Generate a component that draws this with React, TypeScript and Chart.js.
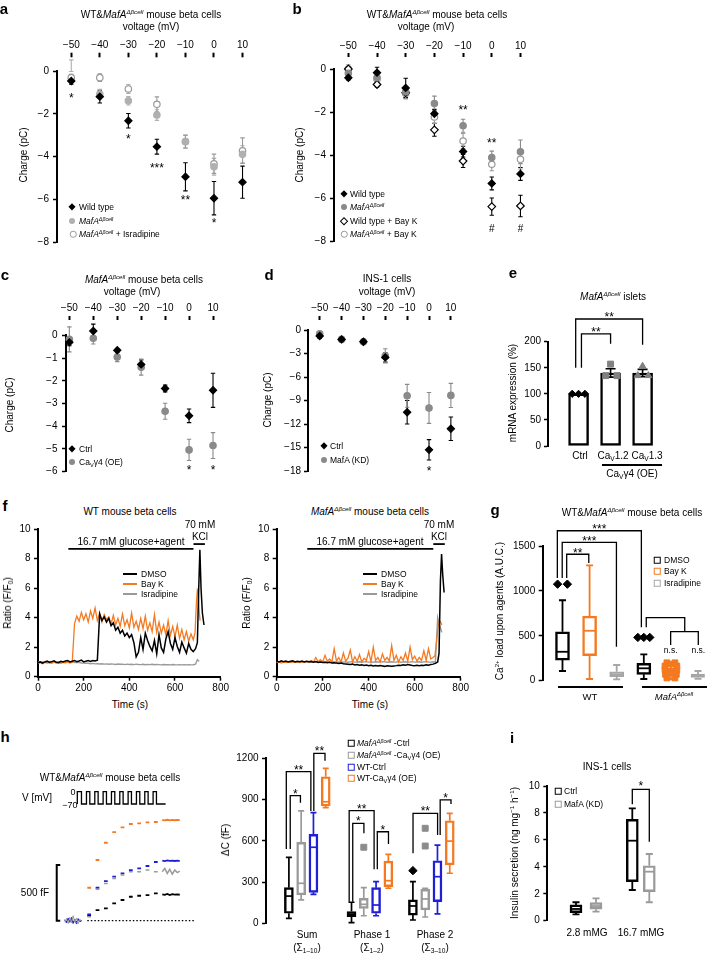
import React, { useEffect, useRef } from 'react';
import { Chart, registerables } from 'chart.js';

Chart.register(...registerables);

const FONT = '"Liberation Sans", Arial, Helvetica, sans-serif';
Chart.defaults.font.family = FONT;
Chart.defaults.color = '#000';

const C_BLACK = '#000000';
const C_LGRAY = '#b0b0b0';
const C_GRAY = '#8a8a8a';
const C_ORANGE = '#f47920';
const C_BLUE = '#1f1fd6';

/* ================= a–d : charge vs voltage ================= */
const VOLTAGES = [-50, -40, -30, -20, -10, 0, 10];

const A_WT = [-0.47, -1.2, -2.33, -3.54, -4.95, -5.95, -5.2];
const A_WT_ERR = [0.15, 0.3, 0.34, 0.35, 0.66, 0.78, 0.75];
const A_MAFA = [0.25, -1.08, -1.39, -2.06, -3.31, -4.48, -3.9];
const A_MAFA_ERR = [0.27, 0.22, 0.2, 0.25, 0.3, 0.39, 0.4];
const A_MAFA_ISR = [-0.31, -0.31, -0.84, -1.56, -3.3, -4.34, -3.73];
const A_MAFA_ISR_ERR = [0.15, 0.18, 0.2, 0.35, 0.3, 0.45, 0.6];
const A_SIG_X = [-50, -30, -20, -10, 0];
const A_SIG_Y = [-1.15, -3.07, -4.43, -5.92, -7.0];
const A_SIG = ['*', '*', '***', '**', '*'];

const B_WT = [-0.41, -0.17, -0.88, -2.08, -3.84, -5.32, -4.88];
const B_WT_ERR = [0.1, 0.25, 0.45, 0.2, 0.25, 0.3, 0.3];
const B_MAFA = [-0.2, -0.4, -1.06, -1.61, -2.64, -4.12, -3.85];
const B_MAFA_ERR = [0.25, 0.3, 0.2, 0.35, 0.3, 0.3, 0.55];
const B_WT_BAYK = [0, -0.72, -1.1, -2.83, -4.28, -6.4, -6.37];
const B_WT_BAYK_ERR = [0.1, 0.12, 0.25, 0.3, 0.3, 0.4, 0.5];
const B_MAFA_BAYK = [0, -0.48, -1.14, -2.23, -3.35, -4.43, -4.2];
const B_MAFA_BAYK_ERR = [0.2, 0.2, 0.25, 0.3, 0.35, 0.3, 0.45];
const B_SIG_X = [-10, 0, 0, 10];
const B_SIG_Y = [-1.8, -3.3, -7.46, -7.46];
const B_SIG = ['**', '**', '#', '#'];

const C_CTRL = [-0.31, 0.19, -0.66, -1.28, -2.34, -3.54, -2.42];
const C_CTRL_ERR = [0.15, 0.3, 0.08, 0.2, 0.15, 0.3, 0.75];
const C_CAV = [-0.18, -0.13, -0.96, -1.4, -3.34, -5.04, -4.85];
const C_CAV_ERR = [0.55, 0.25, 0.2, 0.35, 0.35, 0.47, 0.57];
const C_SIG_X = [0, 10];
const C_SIG_Y = [-5.8, -5.8];
const C_SIG = ['*', '*'];

const D_CTRL = [-0.77, -1.2, -1.5, -3.5, -10.5, -15.3, -12.6];
const D_CTRL_ERR = [0.3, 0.3, 0.3, 0.6, 1.5, 1.3, 1.5];
const D_KD = [-0.5, -1.2, -1.5, -3.3, -8.4, -9.95, -8.35];
const D_KD_ERR = [0.3, 0.3, 0.3, 0.9, 1.46, 1.97, 1.54];
const D_SIG_X = [0];
const D_SIG_Y = [-17.7];
const D_SIG = ['*'];

/* ================= e : mRNA bars ================= */
const E_CATEGORIES = ['Ctrl', 'Ca_V1.2', 'Ca_V1.3'];
const E_MEAN = [100, 140, 140];
const E_ERR = [0, 8, 7];
const E_CTRL_PTS = [100, 100, 100];
const E_CAV12_PTS = [157, 135, 135];
const E_CAV13_PTS = [153, 135, 135];
const E_BRACKETS = [[-0.09, 150, 2, 194, 243.5], [0.09, 150, 1, 196, 215]];
const E_BRACKET_SIG = ['**', '**'];

/* ================= f : Ca traces ================= */
const F_T = [0, 10, 20, 30, 40, 50, 60, 70, 80, 90, 100, 110, 120, 130, 140, 150, 160, 170, 180, 190, 200, 210, 220, 230, 240, 250, 260, 270, 280, 290, 300, 310, 320, 330, 340, 350, 360, 370, 380, 390, 400, 410, 420, 430, 440, 450, 460, 470, 480, 490, 500, 510, 520, 530, 540, 550, 560, 570, 580, 590, 600, 610, 620, 630, 640, 650, 660, 670, 680];
const F_WT_DMSO = [0.95, 1.0, 0.92, 1.0, 1.05, 0.96, 1.02, 1.08, 0.98, 0.95, 1.04, 1.0, 1.06, 1.1, 1.0, 1.05, 1.1, 1.02, 1.06, 1.12, 1.0, 1.05, 1.1, 1.04, 1.1, 1.06, 1.12, 4.25, 3.8, 4.05, 3.7, 3.95, 3.45, 3.65, 3.15, 3.35, 2.95, 3.15, 2.75, 2.95, 2.65, 2.85, 2.3, 1.35, 1.65, 2.65, 1.85, 2.95, 2.45, 2.05, 1.75, 2.45, 1.55, 2.85, 1.95, 1.65, 2.55, 3.05, 2.25, 1.85, 2.65, 2.05, 1.65, 2.35, 1.95, 1.6, 2.25, 1.85, 1.7];
const F_WT_DMSO_KCL_T = [690, 698, 703, 709, 714, 720, 727];
const F_WT_DMSO_KCL = [1.9, 2.3, 5.5, 8.6, 6.0, 4.3, 3.5];
const F_WT_BAYK = [0.9, 0.95, 0.88, 0.97, 0.92, 0.95, 0.9, 0.98, 0.93, 0.96, 0.9, 0.97, 0.94, 0.99, 0.93, 0.98, 3.6, 4.1, 3.75, 4.35, 3.85, 4.25, 3.7, 4.45, 3.95, 4.65, 3.8, 4.3, 3.7, 4.2, 3.85, 4.05, 3.55, 4.15, 3.5, 3.95, 3.4, 4.25, 3.45, 3.85, 3.3, 4.3, 3.35, 3.75, 3.2, 3.95, 3.25, 4.1, 3.15, 3.65, 3.05, 4.2, 3.0, 3.7, 2.95, 3.5, 2.85, 3.8, 2.8, 3.4, 2.7, 3.5, 2.6, 3.2, 2.5, 3.05, 2.4, 2.9, 2.5];
const F_WT_BAYK_KCL_T = [688, 693, 698, 702, 706, 710];
const F_WT_BAYK_KCL = [3.0, 4.8, 5.9, 5.8, 4.4, 3.8];
const F_WT_ISR = [1.0, 0.98, 1.02, 0.97, 1.0, 1.03, 0.98, 1.0, 0.97, 1.01, 0.99, 1.0, 0.97, 1.0, 0.98, 1.0, 0.96, 0.95, 0.97, 0.93, 0.92, 0.9, 0.91, 0.88, 0.9, 0.87, 0.88, 0.86, 0.88, 0.85, 0.87, 0.84, 0.86, 0.85, 0.83, 0.86, 0.84, 0.85, 0.82, 0.85, 0.83, 0.84, 0.82, 0.85, 0.83, 0.82, 0.84, 0.81, 0.83, 0.82, 0.84, 0.81, 0.83, 0.82, 0.8, 0.83, 0.81, 0.82, 0.8, 0.83, 0.81, 0.8, 0.82, 0.8, 0.81, 0.8, 0.82, 0.8, 0.81];
const F_WT_ISR_KCL_T = [690, 698, 706];
const F_WT_ISR_KCL = [0.85, 1.15, 1.05];
const F_KO_DMSO = [1.05, 1.0, 1.08, 1.02, 1.06, 1.0, 1.04, 1.07, 1.0, 1.05, 1.02, 1.06, 1.0, 1.04, 1.01, 1.03, 0.98, 1.02, 0.97, 1.0, 0.96, 0.98, 0.94, 0.97, 0.93, 0.95, 0.92, 0.9, 0.93, 0.88, 0.86, 0.84, 0.82, 0.85, 0.8, 0.82, 0.78, 0.8, 0.76, 0.79, 0.74, 0.77, 0.73, 0.76, 0.72, 0.75, 0.73, 0.7, 0.74, 0.72, 0.7, 0.73, 0.75, 0.78, 0.76, 0.8, 0.78, 0.82, 0.79, 0.76, 0.74, 0.77, 0.75, 0.78, 0.76, 0.8, 0.78, 0.82, 0.85];
const F_KO_DMSO_KCL_T = [690, 700, 706, 712, 717, 722, 728];
const F_KO_DMSO_KCL = [0.9, 1.0, 1.6, 6.5, 8.3, 6.9, 5.7];
const F_KO_BAYK = [0.95, 1.0, 0.93, 1.0, 0.96, 1.02, 0.95, 1.0, 0.97, 1.03, 0.96, 1.01, 0.98, 1.05, 0.98, 1.1, 1.0, 1.3, 1.02, 1.15, 1.0, 1.45, 1.05, 1.2, 1.0, 1.9, 1.05, 1.3, 1.0, 1.6, 1.05, 1.25, 1.8, 1.0, 1.35, 1.05, 1.5, 1.0, 1.25, 1.1, 1.7, 1.0, 2.0, 1.1, 1.3, 1.0, 1.55, 1.1, 1.3, 1.05, 2.1, 1.1, 1.45, 1.0, 1.35, 1.1, 1.6, 1.05, 2.0, 1.15, 1.4, 1.05, 1.3, 1.1, 1.75, 1.1, 1.9, 1.2, 1.3];
const F_KO_BAYK_KCL_T = [688, 694, 702, 708, 713, 718];
const F_KO_BAYK_KCL = [1.4, 2.2, 3.4, 3.8, 3.7, 3.5];
const F_KO_ISR = [1.0, 1.02, 0.98, 1.01, 1.03, 0.99, 1.0, 1.02, 0.98, 1.0, 1.01, 0.99, 1.02, 1.0, 0.98, 1.01, 1.0, 0.99, 1.02, 1.0, 0.98, 1.0, 1.01, 0.99, 1.0, 1.02, 0.98, 1.0, 1.01, 0.99, 1.0, 0.98, 1.0, 1.02, 0.99, 1.0, 1.01, 0.98, 1.0, 1.02, 0.99, 1.0, 0.98, 1.01, 1.0, 0.99, 1.02, 1.0, 0.98, 1.0, 1.01, 0.99, 1.0, 1.02, 0.98, 1.0, 1.01, 0.99, 1.0, 1.02, 0.99, 1.0, 1.01, 0.98, 1.0, 1.02, 1.0, 0.99, 1.01];
const F_KO_ISR_KCL_T = [690, 695, 700, 706, 712, 718];
const F_KO_ISR_KCL = [1.0, 2.5, 4.0, 3.6, 3.3, 3.0];
const F_GLUCOSE_PERIOD = [133, 681];
const F_GLUCOSE_LEVEL = 8.65;
const F_KCL_PERIOD = [681, 731];
const F_KCL_LEVEL = 8.98;

/* ================= g : Ca load boxes ================= */
const G_GROUPS = ['WT', 'MafA'];
const G_DMSO = [[108, 230, 322, 545, 896], [19, 71, 138, 193, 293]];
const G_BAYK = [[19, 278, 556, 720, 1285], [15, 50, 90, 140, 180]];
const G_ISR = [[15, 45, 67, 100, 175], [20, 37, 55, 74, 108]];
const G_DMSO_OUT = [[1075, 1075], [482, 482, 482]];
const G_BAYK_OUT = [[], [200, 200, 185, 165, 165, 120, 120, 70, 70, 30, 30]];
const G_BRACKETS = [[0.155, 1144, 0.97, 1311, 1408], [-0.01, 1144, 1.99, 379, 1541], [-0.19, 1144, 2.91, 595, 1670]];
const G_BRACKET_SIG = ['**', '***', '***'];
const G_NS_LINES = [[[3.09, 595], [3.09, 702], [4.51, 702], [4.51, 546]], [[3.99, 398], [3.99, 546], [5.01, 546], [5.01, 398]]];
const G_NS_X = [3.99, 5.01];
const G_NS_Y = 331;

/* ================= h : capacitance ================= */
const H_PULSE_T = [-1.2, -0.7, -0.1, 0.3, 0.9, 1.3, 1.9, 2.3, 2.9, 3.3, 3.9, 4.3, 4.9, 5.3, 5.9, 6.3, 6.9, 7.3, 7.9, 8.3, 8.9, 9.4];
const H_PULSE_MV = [-70, 0, -70, 0, -70, 0, -70, 0, -70, 0, -70, 0, -70, 0, -70, 0, -70, 0, -70, 0, -70, -70];
const H_SEG_T = [0, 1, 2, 3, 4, 5, 6, 7, 8];
const H_TAIL_T = [9.0, 9.3, 9.6, 9.9, 10.2, 10.5, 10.8, 11.1];
const H_STEP_WT_CAV = [296, 545, 700, 796, 838, 868, 874, 883, 886];
const H_TAIL_WT_CAV = [904, 900, 906, 901, 905, 902, 904, 903];
const H_STEP_WT_CTRL = [57, 296, 356, 395, 425, 455, 470, 491, 527];
const H_TAIL_WT_CTRL = [539, 535, 541, 537, 540, 536, 539, 538];
const H_STEP_MAFA_CAV = [36, 282, 335, 380, 410, 440, 440, 455, 440];
const H_TAIL_MAFA_CAV = [440, 470, 425, 462, 418, 455, 432, 445];
const H_STEP_MAFA_CTRL = [45, 96, 111, 156, 186, 215, 224, 230, 246];
const H_TAIL_MAFA_CTRL = [237, 232, 240, 230, 238, 234, 236, 233];
const H_PRE_T = [-2.7, -2.5, -2.3, -2.1, -1.9, -1.7, -1.5, -1.3, -1.1, -0.9, -0.7];
const H_PRE_BLUE = [10, -20, 25, -15, 30, -25, 15, -30, 20, -10, 5];
const H_PRE_GRAY = [-15, 20, -25, 30, -20, 45, -15, 25, -30, 15, -5];
const H_PRE_BLACK = [5, -10, 15, -5, 10, -15, 5, -10, 10, -5, 0];
const H_BASELINE_T = [0, 12.8];
const H_BASELINE_V = [0, 0];
const H_SCALEBAR_T = [-3.25, -3.67, -3.67, -3.25];
const H_SCALEBAR_V = [500, 500, 0, 0];

const H_GROUPS = ['Sum', 'Phase 1', 'Phase 2'];
const H_MAFA_CTRL = [[36, 73, 198, 259, 480], [5, 48, 65, 85, 153], [24, 60, 126, 170, 303]];
const H_MAFA_CAV = [[170, 206, 291, 589, 817], [55, 109, 138, 182, 259], [46, 97, 177, 247, 255]];
const H_WT_CTRL = [[211, 225, 553, 647, 805], [55, 73, 133, 259, 303], [68, 157, 339, 455, 569]];
const H_WT_CAV = [[841, 853, 884, 1066, 1127], [255, 266, 310, 453, 502], [364, 424, 598, 746, 800]];
const H_OUT_MAFA_CTRL = [[], [], [383]];
const H_OUT_MAFA_CAV = [[], [553], [691, 562]];
const H_BRACKETS = [
  [0.11, 540, 0.94, 877, 928], [-0.21, 540, 1.79, 817, 1103], [2.03, 817, 2.94, 1183, 1236],
  [5.2, 157, 6.11, 655, 727], [4.91, 157, 6.94, 393, 819], [7.2, 393, 8.11, 577, 666],
  [10.11, 509, 12.11, 642, 800], [12.32, 642, 13.2, 868, 897],
];
const H_BRACKET_SIG = ['*', '**', '**', '*', '**', '*', '**', '*'];

/* ================= i : insulin ================= */
const I_GROUPS = ['2.8 mMG', '16.7 mMG'];
const I_CTRL = [[0.47, 0.6, 0.87, 1.17, 1.37], [2.28, 2.9, 5.94, 7.53, 8.34]];
const I_KD = [[0.67, 0.85, 1.09, 1.34, 1.66], [1.37, 2.15, 3.64, 4.08, 4.95]];
const I_BRACKETS = [[2.815, 8.64, 3.665, 5.86, 9.75]];
const I_BRACKET_SIG = ['*'];

/* ---------- layout (positions on the category axes) ---------- */
const E_X = [0, 1, 2];
const E_JIT = [[-0.2, 0, 0.2], [0, -0.15, 0.2], [0, -0.15, 0.18]];
const G_X0 = [0, 3];
const G_JIT2 = [-0.18, 0.18];
const G_JIT3 = [-0.22, 0, 0.22];
const G_JIT11 = [-0.15, 0.15, 0, -0.22, 0.22, -0.22, 0.22, -0.2, 0.2, -0.15, 0.15];
const H_GX = [0, 5.1, 10.1];
const H_SEG_LEN = 0.45;
const I_X_CTRL = [0, 2.815];
const I_X_KD = [1, 3.665];

/* ================= helpers ================= */
const fmt = (v: number) => (v < 0 ? '\u2212' + Math.abs(v) : String(v));

const errorBarPlugin = {
  id: 'errorBarPlugin',
  beforeDatasetsDraw(chart: any) {
    const ctx = chart.ctx;
    const X = chart.scales.x;
    const Y = chart.scales.y;
    chart.data.datasets.forEach((ds: any) => {
      if (!ds.errorBars) return;
      ctx.save();
      ctx.strokeStyle = ds.errColor || '#000';
      ctx.lineWidth = ds.errWidth || 1.1;
      const cw = ds.capW ?? 2.2;
      ds.data.forEach((p: any, i: number) => {
        const e = ds.errorBars[i];
        if (!e) return;
        const px = X.getPixelForValue(p.x);
        const y1 = Y.getPixelForValue(p.y + e);
        const y2 = Y.getPixelForValue(p.y - e);
        ctx.beginPath();
        ctx.moveTo(px, y1); ctx.lineTo(px, y2);
        ctx.moveTo(px - cw, y1); ctx.lineTo(px + cw, y1);
        ctx.moveTo(px - cw, y2); ctx.lineTo(px + cw, y2);
        ctx.stroke();
      });
      ctx.restore();
    });
  },
};
Chart.register(errorBarPlugin);

function notesPlugin(id: string, n: any) {
  return {
    id,
    afterDatasetsDraw(chart: any) {
      const ctx = chart.ctx;
      const X = chart.scales.x;
      const Y = chart.scales.y;
      ctx.save();
      (n.lines || []).forEach((l: any) => {
        ctx.beginPath();
        ctx.strokeStyle = l.color || '#000';
        ctx.lineWidth = l.width || 1.3;
        l.pts.forEach((p: number[], i: number) => {
          const px = X.getPixelForValue(p[0]);
          const py = Y.getPixelForValue(p[1]);
          if (i) ctx.lineTo(px, py); else ctx.moveTo(px, py);
        });
        ctx.stroke();
      });
      (n.texts || []).forEach((t: any) => {
        const size = t.size || 12;
        ctx.font = `${size}px ${FONT}`;
        ctx.fillStyle = t.color || '#000';
        ctx.textAlign = 'center';
        const px = X.getPixelForValue(t.x);
        const py = Y.getPixelForValue(t.y);
        if (t.t.indexOf('*') >= 0) {
          ctx.textBaseline = 'alphabetic';
          ctx.fillText(t.t, px, py + size * 0.55);
        } else {
          ctx.textBaseline = 'middle';
          ctx.fillText(t.t, px, py);
        }
      });
      ctx.restore();
    },
  };
}

function sigTexts(xs: number[], ys: number[], ts: string[], size = 12) {
  return xs.map((x, i) => ({ x, y: ys[i], t: ts[i], size: ts[i] === '#' ? 10 : size }));
}

function bracketNotes(brs: number[][], sig: string[], dy: number, width = 1.3) {
  return {
    lines: brs.map(b => ({ pts: [[b[0], b[1]], [b[0], b[4]], [b[2], b[4]], [b[2], b[3]]], width })),
    texts: brs.map((b, i) => ({ x: (b[0] + b[2]) / 2, y: b[4] + dy, t: sig[i], size: 12 })),
  };
}

function boxWhiskers(id: string, sets: any[], boxW: number, capW: number, lw: number) {
  return {
    id,
    afterDatasetsDraw(chart: any) {
      const ctx = chart.ctx;
      const X = chart.scales.x;
      const Y = chart.scales.y;
      ctx.save();
      ctx.lineWidth = lw;
      sets.forEach((set: any) => set.stats.forEach((s: number[], i: number) => {
        const px = X.getPixelForValue(set.xs[i]);
        const [mn, q1, md, q3, mx] = s.map(v => Y.getPixelForValue(v));
        ctx.strokeStyle = set.color;
        ctx.beginPath();
        ctx.moveTo(px, q3); ctx.lineTo(px, mx);
        ctx.moveTo(px, q1); ctx.lineTo(px, mn);
        ctx.moveTo(px - capW / 2, mx); ctx.lineTo(px + capW / 2, mx);
        ctx.moveTo(px - capW / 2, mn); ctx.lineTo(px + capW / 2, mn);
        ctx.stroke();
        ctx.beginPath();
        ctx.moveTo(px - boxW / 2 + 1, md); ctx.lineTo(px + boxW / 2 - 1, md);
        ctx.stroke();
      }));
      ctx.restore();
    },
  };
}

function baseOpts(pad: any, scales: any) {
  return {
    responsive: false,
    maintainAspectRatio: false,
    animation: false,
    events: [],
    layout: { padding: pad },
    plugins: { legend: { display: false }, tooltip: { enabled: false }, title: { display: false } },
    scales,
  };
}

const TICK_FONT = { family: FONT, size: 10 };

function yAxis(min: number, max: number, step: number, width: number, pad = 3.5) {
  return {
    type: 'linear', position: 'left', min, max,
    ticks: { stepSize: step, color: '#000', font: TICK_FONT, padding: pad, callback: (v: any) => fmt(Number(v)) },
    grid: { display: true, drawOnChartArea: false, drawTicks: true, tickLength: 4, tickWidth: 1.5, tickColor: '#000' },
    border: { display: true, color: '#000', width: 2 },
    afterFit: (s: any) => { s.width = width; },
  };
}

function xTop(min: number, max: number, height: number, tl: number, dash: number, pad: number) {
  return {
    type: 'linear', position: 'top', min, max,
    afterBuildTicks: (s: any) => { s.ticks = VOLTAGES.map(v => ({ value: v })); },
    ticks: { color: '#000', font: TICK_FONT, padding: pad, maxRotation: 0, autoSkip: false, callback: (v: any) => fmt(Number(v)) },
    grid: { display: true, drawOnChartArea: false, drawTicks: true, tickLength: tl, tickWidth: 2, tickColor: '#000', tickBorderDash: [dash, 300] },
    border: { display: false },
    afterFit: (s: any) => { s.height = height; },
  };
}

function hiddenX(min: number, max: number) {
  return { type: 'linear', display: false, min, max, offset: false };
}

function markerSet(vals: number[], errs: number[], style: string, fill: string, stroke: string, r: number) {
  return {
    data: VOLTAGES.map((x, i) => ({ x, y: vals[i] })),
    errorBars: errs, errColor: stroke,
    pointStyle: style, pointRadius: r, pointBackgroundColor: fill, pointBorderColor: stroke, pointBorderWidth: 1.2,
    backgroundColor: fill, borderColor: stroke, showLine: false, clip: false,
  };
}

function boxDataset(xs: number[], stats: number[][], color: string, w: number, fills?: string[]) {
  return {
    type: 'bar',
    data: xs.map((x, i) => ({ x, y: [stats[i][1], stats[i][3]] })),
    backgroundColor: fills || 'rgba(255,255,255,0)',
    borderColor: color, borderWidth: 1.8, borderSkipped: false, barThickness: w, grouped: false, order: 5,
  };
}

function pointsDataset(pts: any[], style: string, color: string, r: number) {
  return {
    type: 'line', data: pts, showLine: false, pointStyle: style, pointRadius: r,
    pointBackgroundColor: color, pointBorderColor: color, pointBorderWidth: 1, order: 1, clip: false,
  };
}

function lineDs(ts: number[], vs: number[], color: string, order: number, w = 1.2) {
  return {
    data: ts.map((t, i) => ({ x: t, y: vs[i] })), borderColor: color, borderWidth: w,
    pointRadius: 0, tension: 0, order, clip: false,
  };
}

/* ================= chart configs ================= */
const cfgA = () => ({
  type: 'scatter',
  data: { datasets: [
    markerSet(A_WT, A_WT_ERR, 'rectRot', C_BLACK, C_BLACK, 3.6),
    markerSet(A_MAFA, A_MAFA_ERR, 'circle', C_LGRAY, C_LGRAY, 3.2),
    markerSet(A_MAFA_ISR, A_MAFA_ISR_ERR, 'circle', '#ffffff', '#999999', 3.2),
  ] },
  options: baseOpts({ top: 0, left: 0, right: 1.5, bottom: 11 }, { x: xTop(-55, 15, 71, 18.3, 4.6, 1.7), y: yAxis(-8, 0, 2, 57, 4) }),
  plugins: [notesPlugin('sigA', { texts: sigTexts(A_SIG_X, A_SIG_Y, A_SIG) })],
});

const cfgB = () => ({
  type: 'scatter',
  data: { datasets: [
    markerSet(B_WT, B_WT_ERR, 'rectRot', C_BLACK, C_BLACK, 3.6),
    markerSet(B_MAFA, B_MAFA_ERR, 'circle', C_GRAY, C_GRAY, 3.2),
    markerSet(B_WT_BAYK, B_WT_BAYK_ERR, 'rectRot', '#ffffff', C_BLACK, 3.8),
    markerSet(B_MAFA_BAYK, B_MAFA_BAYK_ERR, 'circle', '#ffffff', '#999999', 3.2),
  ] },
  options: baseOpts({ top: 0, left: 0, right: 1.4, bottom: 11 }, { x: xTop(-55, 15, 69, 16, 4, 1), y: yAxis(-8, 0, 2, 54, 4) }),
  plugins: [notesPlugin('sigB', { texts: sigTexts(B_SIG_X, B_SIG_Y, B_SIG) })],
});

const cfgC = () => ({
  type: 'scatter',
  data: { datasets: [
    markerSet(C_CTRL, C_CTRL_ERR, 'rectRot', C_BLACK, C_BLACK, 3.6),
    markerSet(C_CAV, C_CAV_ERR, 'circle', C_GRAY, C_GRAY, 3.2),
  ] },
  options: baseOpts({ top: 0, left: 0, right: 3, bottom: 11.3 }, { x: xTop(-51.4, 12, 65.3, 19.3, 4, 2), y: yAxis(-6, 0, 1, 66, 4.5) }),
  plugins: [notesPlugin('sigC', { texts: sigTexts(C_SIG_X, C_SIG_Y, C_SIG) })],
});

const cfgD = () => ({
  type: 'scatter',
  data: { datasets: [
    markerSet(D_CTRL, D_CTRL_ERR, 'rectRot', C_BLACK, C_BLACK, 3.6),
    markerSet(D_KD, D_KD_ERR, 'circle', C_GRAY, C_GRAY, 3.2),
  ] },
  options: baseOpts({ top: 0, left: 0, right: 1.5, bottom: 11 }, { x: xTop(-55.36, 15, 60, 14, 4, 2), y: yAxis(-18, 0, 3, 58, 3) }),
  plugins: [notesPlugin('sigD', { texts: sigTexts(D_SIG_X, D_SIG_Y, D_SIG) })],
});

const cfgE = () => ({
  type: 'bar',
  data: { datasets: [
    {
      type: 'bar', data: E_X.map((x, i) => ({ x, y: E_MEAN[i] })),
      backgroundColor: 'rgba(255,255,255,0)', borderColor: '#000', borderWidth: 1.8, borderSkipped: false,
      barThickness: 20, grouped: false, order: 5,
      errorBars: E_ERR, errColor: '#000', capW: 5, errWidth: 1.6,
    },
    pointsDataset(E_CTRL_PTS.map((v, i) => ({ x: E_X[0] + E_JIT[0][i], y: v })), 'rectRot', C_BLACK, 3.6),
    pointsDataset(E_CAV12_PTS.map((v, i) => ({ x: E_X[1] + E_JIT[1][i], y: v })), 'rect', '#808080', 4.2),
    pointsDataset(E_CAV13_PTS.map((v, i) => ({ x: E_X[2] + E_JIT[2][i], y: v })), 'triangle', '#808080', 4),
  ] },
  options: baseOpts({ top: 41.7, left: 0, right: 0, bottom: 11 }, { x: hiddenX(-0.955, 2.6), y: yAxis(0, 200, 50, 58, 3) }),
  plugins: [notesPlugin('brE', bracketNotes(E_BRACKETS, E_BRACKET_SIG, 9))],
});

function fConfig(sets: any[], glu: number[], kcl: number[], yw: number) {
  return {
    type: 'line',
    data: { datasets: sets },
    options: baseOpts({ top: 10, left: 0, right: 9.3, bottom: 0 }, {
      x: {
        type: 'linear', position: 'bottom', min: 0, max: 800,
        ticks: { stepSize: 200, color: '#000', font: TICK_FONT, padding: 2, maxRotation: 0 },
        grid: { display: true, drawOnChartArea: false, drawTicks: true, tickLength: 4, tickWidth: 1.5, tickColor: '#000' },
        border: { display: true, color: '#000', width: 2 },
        afterFit: (s: any) => { s.height = 20.3; },
      },
      y: yAxis(0, 10, 2, yw, 3.5),
    }),
    plugins: [notesPlugin('barsF', {
      lines: [
        { pts: [[glu[0], F_GLUCOSE_LEVEL], [glu[1], F_GLUCOSE_LEVEL]], width: 1.8 },
        { pts: [[kcl[0], F_KCL_LEVEL], [kcl[1], F_KCL_LEVEL]], width: 1.8 },
      ],
    })],
  };
}

const cfgF1 = () => fConfig([
  lineDs([...F_T, ...F_WT_DMSO_KCL_T], [...F_WT_DMSO, ...F_WT_DMSO_KCL], C_BLACK, 1, 1.5),
  lineDs([...F_T, ...F_WT_BAYK_KCL_T], [...F_WT_BAYK, ...F_WT_BAYK_KCL], C_ORANGE, 2, 1.3),
  lineDs([...F_T, ...F_WT_ISR_KCL_T], [...F_WT_ISR, ...F_WT_ISR_KCL], '#9a9a9a', 3, 1.4),
], F_GLUCOSE_PERIOD, F_KCL_PERIOD, 38);

const cfgF2 = () => fConfig([
  lineDs([...F_T, ...F_KO_DMSO_KCL_T], [...F_KO_DMSO, ...F_KO_DMSO_KCL], C_BLACK, 1, 1.5),
  lineDs([...F_T, ...F_KO_BAYK_KCL_T], [...F_KO_BAYK, ...F_KO_BAYK_KCL], C_ORANGE, 2, 1.3),
  lineDs([...F_T, ...F_KO_ISR_KCL_T], [...F_KO_ISR, ...F_KO_ISR_KCL], '#9a9a9a', 3, 1.4),
], F_GLUCOSE_PERIOD, F_KCL_PERIOD, 38.7);

const cfgG = () => {
  const xs = (k: number) => G_X0.map(g => g + k);
  const out: any[] = [];
  G_DMSO_OUT.forEach((vals, gi) => vals.forEach((v, j) => out.push({ x: G_X0[gi] + (vals.length === 2 ? G_JIT2[j] : G_JIT3[j]), y: v })));
  const outB: any[] = [];
  G_BAYK_OUT.forEach((vals, gi) => vals.forEach((v, j) => outB.push({ x: G_X0[gi] + 1 + G_JIT11[j], y: v })));
  const br = bracketNotes(G_BRACKETS, G_BRACKET_SIG, 45);
  return {
    type: 'bar',
    data: { datasets: [
      boxDataset(xs(0), G_DMSO, C_BLACK, 14),
      boxDataset(xs(1), G_BAYK, C_ORANGE, 14, ['rgba(255,255,255,0)', C_ORANGE]),
      boxDataset(xs(2), G_ISR, '#a6a6a6', 14),
      pointsDataset(out, 'rectRot', C_BLACK, 4.2),
      pointsDataset(outB, 'rect', C_ORANGE, 4),
    ] },
    options: baseOpts({ top: 41, left: 0, right: 1, bottom: 11.3 }, { x: hiddenX(-0.73, 5.25), y: yAxis(0, 1500, 500, 52.7, 3.5) }),
    plugins: [
      boxWhiskers('bwG', [
        { xs: xs(0), stats: G_DMSO, color: C_BLACK },
        { xs: xs(1), stats: G_BAYK, color: C_ORANGE },
        { xs: xs(2), stats: G_ISR, color: '#a6a6a6' },
      ], 14, 7, 1.8),
      notesPlugin('brG', {
        lines: [...br.lines, ...G_NS_LINES.map(p => ({ pts: p, width: 1.3 }))],
        texts: [...br.texts, ...G_NS_X.map(x => ({ x, y: G_NS_Y, t: 'n.s.', size: 8.5 }))],
      }),
    ],
  };
};

function segTrace(steps: number[], tail: number[]) {
  const d: any[] = [];
  steps.forEach((v, k) => {
    d.push({ x: H_SEG_T[k], y: v }, { x: H_SEG_T[k] + H_SEG_LEN, y: v }, { x: H_SEG_T[k] + H_SEG_LEN + 0.01, y: null });
  });
  tail.forEach((v, j) => d.push({ x: H_TAIL_T[j], y: v }));
  return d;
}

const cfgHL = () => ({
  type: 'line',
  data: { datasets: [
    { data: H_PULSE_T.map((t, i) => ({ x: t, y: H_PULSE_MV[i] })), yAxisID: 'yV', stepped: 'after', borderColor: '#000', borderWidth: 1.3, pointRadius: 0 },
    { data: H_BASELINE_T.map((t, i) => ({ x: t, y: H_BASELINE_V[i] })), borderColor: '#000', borderWidth: 1.2, borderDash: [1.5, 2], pointRadius: 0 },
    { data: H_SCALEBAR_T.map((t, i) => ({ x: t, y: H_SCALEBAR_V[i] })), borderColor: '#000', borderWidth: 2, pointRadius: 0 },
    { data: segTrace(H_STEP_WT_CAV, H_TAIL_WT_CAV), borderColor: C_ORANGE, borderWidth: 1.8, pointRadius: 0, spanGaps: false },
    { data: segTrace(H_STEP_MAFA_CAV, H_TAIL_MAFA_CAV), borderColor: '#9a9a9a', borderWidth: 1.5, pointRadius: 0, spanGaps: false },
    { data: segTrace(H_STEP_WT_CTRL, H_TAIL_WT_CTRL), borderColor: C_BLUE, borderWidth: 1.8, pointRadius: 0, spanGaps: false },
    { data: segTrace(H_STEP_MAFA_CTRL, H_TAIL_MAFA_CTRL), borderColor: C_BLACK, borderWidth: 1.8, pointRadius: 0, spanGaps: false },
    { data: H_PRE_T.map((t, i) => ({ x: t, y: H_PRE_GRAY[i] })), borderColor: '#9a9a9a', borderWidth: 1, pointRadius: 0 },
    { data: H_PRE_T.map((t, i) => ({ x: t, y: H_PRE_BLUE[i] })), borderColor: C_BLUE, borderWidth: 1, pointRadius: 0 },
    { data: H_PRE_T.map((t, i) => ({ x: t, y: H_PRE_BLACK[i] })), borderColor: C_BLACK, borderWidth: 1, pointRadius: 0 },
  ] },
  options: baseOpts({ top: 0, left: 0, right: 0, bottom: 0 }, {
    x: { type: 'linear', display: false, min: -10.48, max: 17.13 },
    y: { type: 'linear', display: false, min: -173, max: 1263 },
    yV: { type: 'linear', display: false, min: -844, max: 66.6 },
  }),
});

const cfgHR = () => {
  const xs = (s: number) => H_GX.map(g => g + s);
  const outD: any[] = [];
  H_OUT_MAFA_CTRL.forEach((vals, gi) => vals.forEach(v => outD.push({ x: H_GX[gi], y: v })));
  const outS: any[] = [];
  H_OUT_MAFA_CAV.forEach((vals, gi) => vals.forEach(v => outS.push({ x: H_GX[gi] + 1, y: v })));
  const series = [
    { stats: H_MAFA_CTRL, color: C_BLACK },
    { stats: H_MAFA_CAV, color: '#9a9a9a' },
    { stats: H_WT_CTRL, color: C_BLUE },
    { stats: H_WT_CAV, color: C_ORANGE },
  ];
  return {
    type: 'bar',
    data: { datasets: [
      ...series.map((s, k) => boxDataset(xs(k), s.stats, s.color, 9)),
      pointsDataset(outD, 'rectRot', C_BLACK, 4.2),
      pointsDataset(outS, 'rect', '#8c8c8c', 4.2),
    ] },
    options: baseOpts({ top: 28.3, left: 0, right: 1.7, bottom: 10.7 }, { x: hiddenX(-1.864, 14), y: yAxis(0, 1200, 300, 36, 3.5) }),
    plugins: [
      boxWhiskers('bwH', series.map((s, k) => ({ xs: xs(k), stats: s.stats, color: s.color })), 9, 6, 1.7),
      notesPlugin('brH', bracketNotes(H_BRACKETS, H_BRACKET_SIG, 34)),
    ],
  };
};

const cfgI = () => ({
  type: 'bar',
  data: { datasets: [
    boxDataset(I_X_CTRL, I_CTRL, C_BLACK, 12),
    boxDataset(I_X_KD, I_KD, '#9a9a9a', 12),
  ] },
  options: baseOpts({ top: 20, left: 0, right: 4, bottom: 11.3 }, { x: hiddenX(-1.435, 5), y: yAxis(0, 10, 2, 47.3, 3.5) }),
  plugins: [
    boxWhiskers('bwI', [
      { xs: I_X_CTRL, stats: I_CTRL, color: C_BLACK },
      { xs: I_X_KD, stats: I_KD, color: '#9a9a9a' },
    ], 12, 7, 1.8),
    notesPlugin('brI', bracketNotes(I_BRACKETS, I_BRACKET_SIG, 0.45)),
  ],
});

/* ================= React pieces ================= */
function ChartCanvas({ left, top, w, h, config }: any) {
  const ref = useRef<HTMLCanvasElement>(null);
  useEffect(() => {
    const chart = new Chart(ref.current as HTMLCanvasElement, config() as any);
    return () => chart.destroy();
  }, []);
  return <canvas ref={ref} width={w} height={h} style={{ position: 'absolute', left, top, width: w, height: h }} />;
}

function T({ x, y, s = 10, a = 'c', b = false, r = false, children }: any) {
  const tx = a === 'c' ? '-50%' : a === 'l' ? '0%' : '-100%';
  return (
    <div style={{
      position: 'absolute', left: x, top: y, transform: `translate(${tx},-50%)` + (r ? ' rotate(-90deg)' : ''),
      fontSize: s, fontWeight: b ? 'bold' : 'normal', whiteSpace: 'nowrap', lineHeight: 1, color: '#000', fontFamily: FONT,
    }}>{children}</div>
  );
}

const Sup = ({ c, it = false }: any) => (
  <span style={{ fontSize: '0.62em', position: 'relative', top: '-0.6em', fontStyle: it ? 'italic' : 'normal' }}>{c}</span>
);
const Sub = ({ c }: any) => (
  <span style={{ fontSize: '0.66em', position: 'relative', top: '0.35em' }}>{c}</span>
);
const MafA = () => <><i>MafA</i><Sup c={'\u0394\u03b2cell'} it /></>;
const CaV = () => <>Ca<Sub c="V" /></>;

function Mk({ x, y, k, c }: any) {
  const st: any = { position: 'absolute', left: x, top: y, transform: 'translate(-50%,-50%)', boxSizing: 'border-box' };
  if (k === 'dia') Object.assign(st, { width: 5.2, height: 5.2, background: c, transform: 'translate(-50%,-50%) rotate(45deg)' });
  if (k === 'odia') Object.assign(st, { width: 5.6, height: 5.6, border: `1.3px solid ${c}`, background: '#fff', transform: 'translate(-50%,-50%) rotate(45deg)' });
  if (k === 'dot') Object.assign(st, { width: 6, height: 6, borderRadius: '50%', background: c });
  if (k === 'odot') Object.assign(st, { width: 6.5, height: 6.5, borderRadius: '50%', border: `1.2px solid ${c}`, background: '#fff' });
  if (k === 'sq') Object.assign(st, { width: 6.5, height: 6.5, border: `1.6px solid ${c}` });
  if (k === 'line') Object.assign(st, { width: 14, height: 2, background: c, transform: 'translate(0,-50%)' });
  return <div style={st} />;
}

function HLine({ x1, x2, y }: any) {
  return <div style={{ position: 'absolute', left: x1, top: y - 0.75, width: x2 - x1, height: 1.5, background: '#000' }} />;
}

const catLabel = (s: string) => {
  const m = s.split('_V');
  return m.length === 2 ? <>{m[0]}<Sub c="V" />{m[1]}</> : s;
};

export default function App() {
  const LS = 8.5;
  return (
    <div style={{ position: 'absolute', left: 0, top: 0, width: 710, height: 954, background: '#fff', overflow: 'hidden', fontFamily: FONT }}>
      <ChartCanvas left={0} top={0} w={262} h={253} config={cfgA} />
      <ChartCanvas left={280} top={0} w={260} h={252} config={cfgB} />
      <ChartCanvas left={0} top={270} w={223} h={213} config={cfgC} />
      <ChartCanvas left={250} top={270} w={217} h={212} config={cfgD} />
      <ChartCanvas left={490} top={300} w={177} h={157} config={cfgE} />
      <ChartCanvas left={0} top={519} w={231} h={178} config={cfgF1} />
      <ChartCanvas left={238} top={519} w={233} h={178} config={cfgF2} />
      <ChartCanvas left={490} top={505} w={220} h={187} config={cfgG} />
      <ChartCanvas left={0} top={780} w={230} h={160} config={cfgHL} />
      <ChartCanvas left={230} top={730} w={236} h={204} config={cfgHR} />
      <ChartCanvas left={500} top={766} w={180} h={166} config={cfgI} />

      {/* panel letters */}
      <T x={4} y={8} s={15} b>a</T>
      <T x={297} y={8} s={15} b>b</T>
      <T x={5} y={274} s={15} b>c</T>
      <T x={269} y={274} s={15} b>d</T>
      <T x={513} y={272} s={15} b>e</T>
      <T x={5} y={505} s={15} b>f</T>
      <T x={495} y={509} s={15} b>g</T>
      <T x={5} y={736} s={15} b>h</T>
      <T x={512} y={737} s={15} b>i</T>

      {/* a */}
      <T x={151} y={15}>{'WT&'}<MafA /> mouse beta cells</T>
      <T x={151} y={27}>voltage (mV)</T>
      <T x={24} y={155} r>Charge (pC)</T>
      <Mk x={72} y={207} k="dia" c={C_BLACK} /><T x={79} y={207} s={LS} a="l">Wild type</T>
      <Mk x={72} y={221} k="dot" c={C_LGRAY} /><T x={79} y={221} s={LS} a="l"><MafA /></T>
      <Mk x={73} y={234} k="odot" c="#999" /><T x={79} y={234} s={LS} a="l"><MafA /> + Isradipine</T>

      {/* b */}
      <T x={437} y={15}>{'WT&'}<MafA /> mouse beta cells</T>
      <T x={426} y={27}>voltage (mV)</T>
      <T x={300} y={155} r>Charge (pC)</T>
      <Mk x={344} y={194} k="dia" c={C_BLACK} /><T x={350} y={194} s={LS} a="l">Wild type</T>
      <Mk x={344} y={207} k="dot" c={C_GRAY} /><T x={350} y={207} s={LS} a="l"><MafA /></T>
      <Mk x={344} y={221} k="odia" c={C_BLACK} /><T x={350} y={221} s={LS} a="l">Wild type + Bay K</T>
      <Mk x={344} y={234} k="odot" c="#999" /><T x={350} y={234} s={LS} a="l"><MafA /> + Bay K</T>

      {/* c */}
      <T x={144} y={280}><MafA /> mouse beta cells</T>
      <T x={132} y={292}>voltage (mV)</T>
      <T x={10} y={405} r>Charge (pC)</T>
      <Mk x={72} y={449} k="dia" c={C_BLACK} /><T x={79} y={449} s={LS} a="l">Ctrl</T>
      <Mk x={72} y={462} k="dot" c={C_GRAY} /><T x={79} y={462} s={LS} a="l"><CaV />{'\u03b3'}4 (OE)</T>

      {/* d */}
      <T x={387} y={279}>INS-1 cells</T>
      <T x={387} y={292}>voltage (mV)</T>
      <T x={268} y={400} r>Charge (pC)</T>
      <Mk x={324} y={446} k="dia" c={C_BLACK} /><T x={330} y={446} s={LS} a="l">Ctrl</T>
      <Mk x={324} y={460} k="dot" c={C_GRAY} /><T x={330} y={460} s={LS} a="l">MafA (KD)</T>

      {/* e */}
      <T x={613} y={297}><MafA /> islets</T>
      <T x={513} y={393} r>mRNA expression (%)</T>
      <T x={580} y={456}>{catLabel(E_CATEGORIES[0])}</T>
      <T x={613} y={456}>{catLabel(E_CATEGORIES[1])}</T>
      <T x={647} y={456}>{catLabel(E_CATEGORIES[2])}</T>
      <HLine x1={602} x2={662} y={465} />
      <T x={632} y={474}><CaV />{'\u03b3'}4 (OE)</T>

      {/* f */}
      <T x={130} y={512}>WT mouse beta cells</T>
      <T x={370} y={512}><MafA /> mouse beta cells</T>
      <T x={8} y={603} r>Ratio (F/F<Sub c="0" />)</T>
      <T x={247} y={603} r>Ratio (F/F<Sub c="0" />)</T>
      <T x={131} y={542}>16.7 mM glucose+agent</T>
      <T x={370} y={542}>16.7 mM glucose+agent</T>
      <T x={200} y={525}>70 mM</T>
      <T x={200} y={537}>KCl</T>
      <T x={439} y={525}>70 mM</T>
      <T x={439} y={537}>KCl</T>
      <T x={130} y={705}>Time (s)</T>
      <T x={370} y={705}>Time (s)</T>
      <Mk x={123} y={574} k="line" c={C_BLACK} /><T x={141} y={574} s={LS} a="l">DMSO</T>
      <Mk x={123} y={584} k="line" c={C_ORANGE} /><T x={141} y={584} s={LS} a="l">Bay K</T>
      <Mk x={123} y={594} k="line" c="#9a9a9a" /><T x={141} y={594} s={LS} a="l">Isradipine</T>
      <Mk x={363} y={574} k="line" c={C_BLACK} /><T x={381} y={574} s={LS} a="l">DMSO</T>
      <Mk x={363} y={584} k="line" c={C_ORANGE} /><T x={381} y={584} s={LS} a="l">Bay K</T>
      <Mk x={363} y={594} k="line" c="#9a9a9a" /><T x={381} y={594} s={LS} a="l">Isradipine</T>

      {/* g */}
      <T x={632} y={513}>{'WT&'}<MafA /> mouse beta cells</T>
      <T x={500} y={611} r>Ca<Sup c="2+" /> load upon agents (A.U.C.)</T>
      <Mk x={657} y={560} k="sq" c={C_BLACK} /><T x={664} y={560} s={LS} a="l">DMSO</T>
      <Mk x={657} y={571} k="sq" c={C_ORANGE} /><T x={664} y={571} s={LS} a="l">Bay K</T>
      <Mk x={657} y={583} k="sq" c="#a6a6a6" /><T x={664} y={583} s={LS} a="l">Isradipine</T>
      <HLine x1={558} x2={623} y={687} />
      <HLine x1={642} x2={707} y={687} />
      <T x={590} y={697} s={9.5}>{G_GROUPS[0]}</T>
      <T x={674} y={697} s={9.5}><MafA /></T>

      {/* h left */}
      <T x={110} y={778}>{'WT&'}<MafA /> mouse beta cells</T>
      <T x={37} y={798}>V [mV]</T>
      <T x={73} y={792} s={9}>0</T>
      <T x={70} y={805} s={9}>{'\u221270'}</T>
      <T x={35} y={893}>500 fF</T>

      {/* h right */}
      <T x={226} y={840} r>{'\u0394'}C (fF)</T>
      <Mk x={351} y={743} k="sq" c={C_BLACK} /><T x={357} y={743} s={LS} a="l"><MafA /> -Ctrl</T>
      <Mk x={351} y={755} k="sq" c="#9a9a9a" /><T x={357} y={755} s={LS} a="l"><MafA /> -<CaV />{'\u03b3'}4 (OE)</T>
      <Mk x={351} y={767} k="sq" c={C_BLUE} /><T x={357} y={767} s={LS} a="l">WT-Ctrl</T>
      <Mk x={351} y={778} k="sq" c={C_ORANGE} /><T x={357} y={778} s={LS} a="l">WT-<CaV />{'\u03b3'}4 (OE)</T>
      <T x={307} y={935}>{H_GROUPS[0]}</T>
      <T x={307} y={948}>({'\u03a3'}<Sub c={'1\u201310'} />)</T>
      <T x={372} y={935}>{H_GROUPS[1]}</T>
      <T x={372} y={948}>({'\u03a3'}<Sub c={'1\u20132'} />)</T>
      <T x={435} y={935}>{H_GROUPS[2]}</T>
      <T x={435} y={948}>({'\u03a3'}<Sub c={'3\u201310'} />)</T>

      {/* i */}
      <T x={607} y={767}>INS-1 cells</T>
      <T x={515} y={853} r>Insulin secretion (ng mg<Sup c={'\u22121'} /> h<Sup c={'\u22121'} />)</T>
      <Mk x={558} y={791} k="sq" c={C_BLACK} /><T x={564} y={791} s={LS} a="l">Ctrl</T>
      <Mk x={558} y={804} k="sq" c="#9a9a9a" /><T x={564} y={804} s={LS} a="l">MafA (KD)</T>
      <T x={587} y={933}>{I_GROUPS[0]}</T>
      <T x={641} y={933}>{I_GROUPS[1]}</T>
    </div>
  );
}
